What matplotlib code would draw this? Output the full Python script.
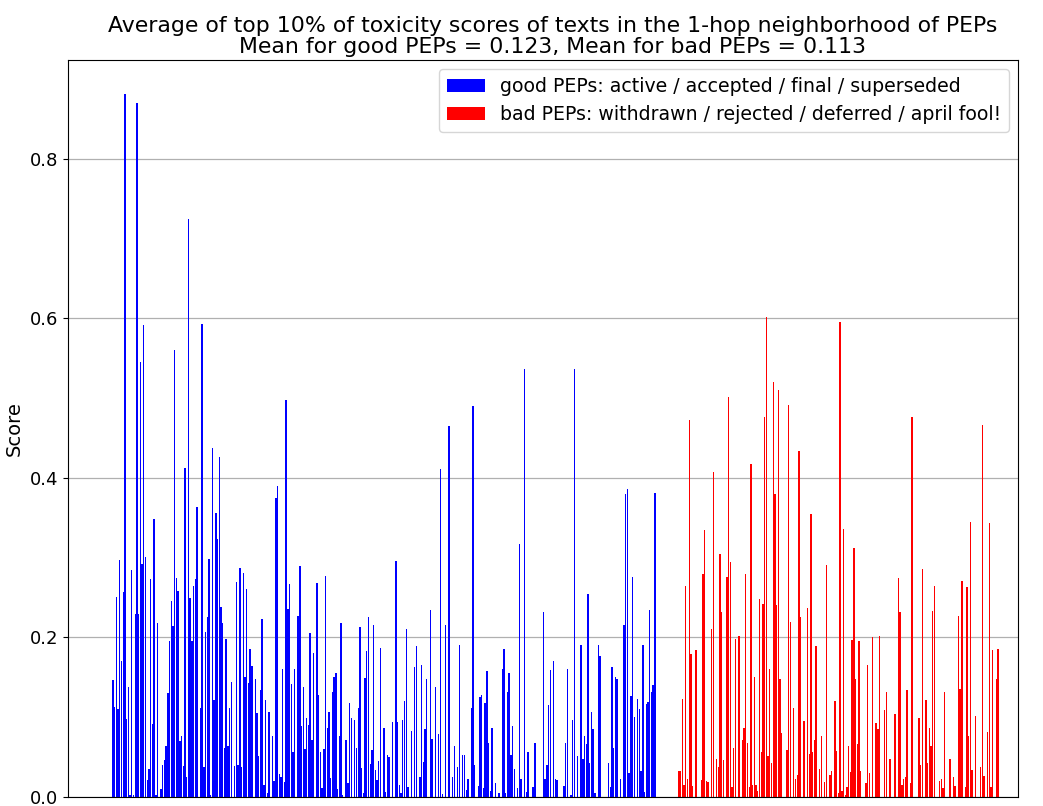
import numpy as np
import matplotlib.pyplot as plt

# Average of the top 10% toxicity scores around each PEP
good_scores = [
    0.147, 0.113, 0.251, 0.110, 0.297, 0.17, 0.257, 0.881, 0.098, 0.138, 0.003, 0.285, 0.003, 0.229, 0.870, 0.23,
    0.545, 0.292, 0.592, 0.301, 0.021, 0.035, 0.273, 0.091, 0.349, 0.002, 0.218, 0.0, 0.01, 0.04, 0.046, 0.064,
    0.13, 0.195, 0.246, 0.214, 0.56, 0.275, 0.258, 0.07, 0.076, 0.039, 0.413, 0.025, 0.725, 0.25, 0.196, 0.265,
    0.273, 0.363, 0.0, 0.111, 0.593, 0.038, 0.207, 0.226, 0.298, 0.002, 0.437, 0.121, 0.356, 0.324, 0.426, 0.238,
    0.218, 0.061, 0.198, 0.064, 0.112, 0.144, 0.0, 0.039, 0.27, 0.04, 0.287, 0.037, 0.281, 0.151, 0.261, 0.143,
    0.185, 0.164, 0.0, 0.148, 0.105, 0.051, 0.134, 0.223, 0.015, 0.122, 0.005, 0.107, 0.0, 0.076, 0.02, 0.375,
    0.39, 0.029, 0.025, 0.16, 0.019,
    0.498, 0.236, 0.267, 0.142, 0.056, 0.16, 0.0, 0.227, 0.29, 0.089, 0.138, 0.06, 0.099, 0.09, 0.205, 0.071,
    0.181, 0.0, 0.268, 0.128, 0.057, 0.011, 0.06, 0.277, 0.086, 0.106, 0.024, 0.132, 0.15, 0.155, 0.01, 0.076,
    0.218, 0.003, 0.0, 0.072, 0.018, 0.118, 0.099, 0.0, 0.097, 0.061, 0.111, 0.213, 0.036, 0.005, 0.149, 0.183,
    0.226, 0.041, 0.059, 0.215, 0.034,
    0.021, 0.045, 0.187, 0.0, 0.087, 0.006, 0.053, 0.05, 0.0, 0.094, 0.0, 0.296, 0.094, 0.015, 0.005, 0.097,
    0.12, 0.211, 0.013, 0.0, 0.083, 0.0, 0.163, 0.189, 0.0, 0.025, 0.166, 0.044, 0.085, 0.148, 0.0, 0.235,
    0.073, 0.0, 0.138, 0.0, 0.079, 0.411, 0.004, 0.0, 0.215, 0.0, 0.465, 0.0, 0.025, 0.064, 0.0, 0.037,
    0.191, 0.0, 0.053, 0.053, 0.009,
    0.023, 0.0, 0.111, 0.49, 0.04, 0.0, 0.014, 0.125, 0.128, 0.011, 0.118, 0.158, 0.068, 0.008, 0.086, 0.0,
    0.017, 0.0, 0.005, 0.0, 0.16, 0.186, 0.005, 0.131, 0.156, 0.052, 0.089, 0.035, 0.0, 0.011, 0.317, 0.022,
    0.0, 0.537, 0.006, 0.056, 0.0, 0.0, 0.012, 0.068, 0.0, 0.0, 0.0, 0.0, 0.232, 0.023, 0.04, 0.115,
    0.159, 0.0, 0.171, 0.023,
    0.021, 0.0, 0.0, 0.0, 0.014, 0.068, 0.16, 0.0, 0.003, 0.097, 0.537, 0.0, 0.051, 0.0, 0.19, 0.048,
    0.077, 0.066, 0.254, 0.043, 0.107, 0.085, 0.005, 0.0, 0.191, 0.177, 0.0, 0.0, 0.0, 0.0, 0.043, 0.013,
    0.163, 0.062, 0.15, 0.148, 0.0, 0.023, 0.0, 0.216, 0.38, 0.386, 0.03, 0.127, 0.276, 0.1, 0.0, 0.123,
    0.11, 0.033, 0.191, 0.006, 0.117, 0.119, 0.234, 0.131, 0.14, 0.381,
]

bad_scores = [
    0.033, 0.033, 0.123, 0.015, 0.265, 0.023, 0.472, 0.179, 0.014, 0.0, 0.184, 0.0, 0.0, 0.021, 0.28, 0.335,
    0.02, 0.019, 0.0, 0.211, 0.408, 0.0, 0.048, 0.038, 0.305, 0.232, 0.046, 0.0, 0.276, 0.502, 0.294, 0.012,
    0.061, 0.198, 0.0, 0.202, 0.0, 0.071, 0.087, 0.28, 0.068, 0.012, 0.418, 0.015, 0.15, 0.015, 0.007,
    0.248, 0.057, 0.242, 0.476, 0.602, 0.051, 0.16, 0.043, 0.52, 0.38, 0.241, 0.51, 0.148, 0.08, 0.0, 0.0,
    0.059, 0.491, 0.219, 0.0, 0.112, 0.023, 0.028, 0.434, 0.226, 0.0, 0.095, 0.0, 0.237, 0.054, 0.355, 0.056,
    0.072, 0.189, 0.0, 0.035, 0.076, 0.0, 0.019, 0.291, 0.0, 0.027, 0.032, 0.0, 0.12, 0.058, 0.005, 0.596,
    0.008, 0.336,
    0.003, 0.012, 0.064, 0.031, 0.197, 0.312, 0.148, 0.067, 0.195, 0.033, 0.0, 0.0, 0.018, 0.165, 0.03, 0.0,
    0.201, 0.0, 0.093, 0.085, 0.202, 0.0, 0.0, 0.109, 0.131, 0.0, 0.048, 0.0, 0.0, 0.104, 0.0, 0.274,
    0.232, 0.015, 0.022, 0.025, 0.134, 0.0, 0.018, 0.476, 0.0, 0.0, 0.0, 0.099, 0.04, 0.286, 0.0, 0.122,
    0.042,
    0.086, 0.064, 0.233, 0.265, 0.0, 0.0, 0.02, 0.022, 0.011, 0.131, 0.0, 0.0, 0.048, 0.0, 0.025, 0.014,
    0.0, 0.227, 0.135, 0.271, 0.0, 0.012, 0.263, 0.076, 0.345, 0.034, 0.0, 0.102, 0.0, 0.0, 0.037, 0.466,
    0.026, 0.0, 0.081, 0.343, 0.012, 0.184, 0.0, 0.148, 0.186, 0.0, 0.0, 0.0, 0.0, 0.0, 0.0, 0.0,
]

good_label = 'good PEPs: active / accepted / final / superseded'
bad_label = 'bad PEPs: withdrawn / rejected / deferred / april fool!'
title = ('Average of top 10% of toxicity scores of texts in the 1-hop neighborhood of PEPs\n'
         'Mean for good PEPs = 0.123, Mean for bad PEPs = 0.113')

gap = 13
x_good = np.arange(len(good_scores))
x_bad = np.arange(len(bad_scores)) + len(good_scores) + gap

fig = plt.figure(figsize=(10.43, 8.06), dpi=100)
ax = fig.add_axes([0.0652, 0.0112, 0.9108, 0.9144])

ax.bar(x_good, good_scores, width=0.8, color='blue', label=good_label)
ax.bar(x_bad, bad_scores, width=0.8, color='red', label=bad_label)

ax.set_xlim(-26.2, x_bad[-1] + 4.7)
ax.set_ylim(0, 0.924)
ax.set_xticks([])
ax.set_yticks([0.0, 0.2, 0.4, 0.6, 0.8])
ax.tick_params(axis='y', labelsize=13)
ax.set_ylabel('Score', fontsize=14)
ax.yaxis.grid(True, color='#b0b0b0', linewidth=0.9)
ax.set_axisbelow(True)
ax.set_title(title, fontsize=15.8, linespacing=1.05, pad=5, x=0.51)
ax.legend(loc='upper right', fontsize=13.6)

fig.savefig('out.png', dpi=100)
